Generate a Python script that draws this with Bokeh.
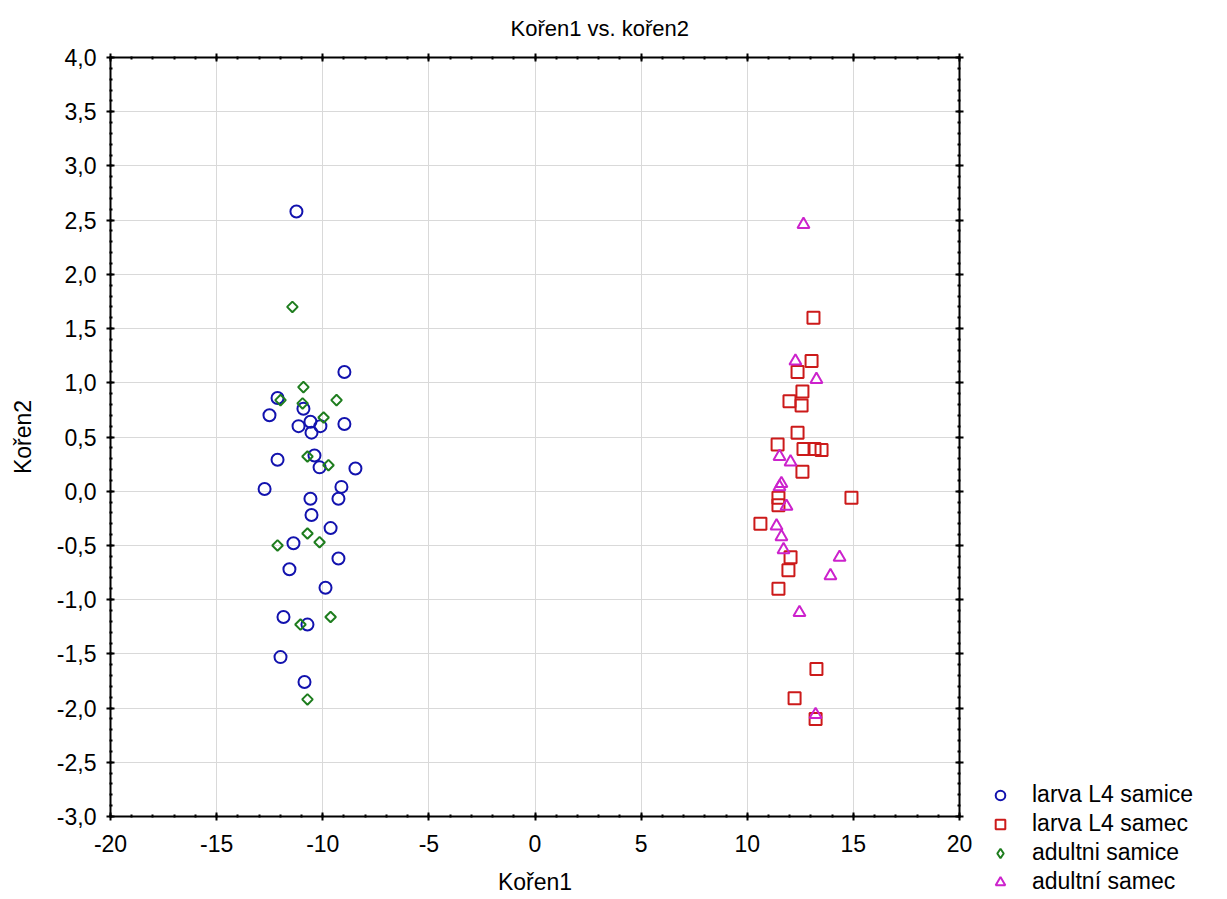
import numpy as np
from bokeh.plotting import figure
from bokeh.layouts import row
from bokeh.models import (Range1d, FixedTicker, LinearAxis, Legend, LegendItem, Title,
                          CustomJSTickFormatter)
from bokeh.embed import file_html
from bokeh.resources import INLINE

# ---- data ----
l4_samice_x = [-11.24, -8.98, -12.13, -10.91, -12.51, -11.14, -10.58, -10.11, -10.53, -8.98,
               -12.13, -10.39, -10.15, -8.46, -12.74, -9.12, -9.26, -10.58, -10.53, -9.63,
               -11.38, -9.26, -11.57, -9.87, -11.85, -10.72, -11.99, -10.86]
l4_samice_y = [2.58, 1.10, 0.86, 0.76, 0.70, 0.60, 0.64, 0.60, 0.54, 0.62,
               0.29, 0.33, 0.22, 0.21, 0.02, 0.04, -0.07, -0.07, -0.22, -0.34,
               -0.48, -0.62, -0.72, -0.89, -1.16, -1.23, -1.53, -1.76]

l4_samec_x = [13.12, 13.03, 12.37, 12.60, 11.99, 12.56, 12.37, 11.43, 12.65, 13.17, 13.50,
              12.60, 11.47, 11.47, 14.91, 10.62, 12.04, 11.94, 11.47, 13.26, 12.23, 13.22]
l4_samec_y = [1.60, 1.20, 1.10, 0.92, 0.83, 0.79, 0.54, 0.43, 0.39, 0.39, 0.38,
              0.18, -0.06, -0.13, -0.06, -0.30, -0.61, -0.73, -0.90, -1.64, -1.91, -2.10]

ad_samice_x = [-11.43, -10.91, -11.99, -10.95, -9.35, -9.96, -10.72, -9.73, -10.72, -12.13,
               -10.15, -9.63, -11.05, -10.72]
ad_samice_y = [1.70, 0.96, 0.84, 0.81, 0.84, 0.68, 0.32, 0.24, -0.39, -0.50,
               -0.47, -1.16, -1.23, -1.92]

ad_samec_x = [12.65, 12.27, 13.26, 11.52, 12.04, 11.61, 11.52, 11.85, 11.38, 11.61, 11.71,
              14.35, 13.92, 12.46, 13.22]
ad_samec_y = [2.46, 1.20, 1.03, 0.32, 0.27, 0.07, 0.04, -0.14, -0.32, -0.42, -0.54,
              -0.61, -0.78, -1.12, -2.06]

series_names = ["larva L4 samice", "larva L4 samec", "adultni samice", "adultní samec"]

x_ticks = [-20, -15, -10, -5, 0, 5, 10, 15, 20]
x_tick_labels = ["-20", "-15", "-10", "-5", "0", "5", "10", "15", "20"]
x_minor = list(range(-20, 21))
y_ticks = [-3.0, -2.5, -2.0, -1.5, -1.0, -0.5, 0.0, 0.5, 1.0, 1.5, 2.0, 2.5, 3.0, 3.5, 4.0]
y_tick_labels = ["-3,0", "-2,5", "-2,0", "-1,5", "-1,0", "-0,5", "0,0", "0,5", "1,0",
                 "1,5", "2,0", "2,5", "3,0", "3,5", "4,0"]
y_minor = [round(-3 + 0.1 * i, 1) for i in range(71)]

FONT = "Liberation Sans"
H = 897
W_MAIN = 985
W_LEG = 234

colors = ["#1212ae", "#cc1a1a", "#1e7d1e", "#cc22cc"]

p = figure(width=W_MAIN, height=H, output_backend="svg", toolbar_location=None,
           x_range=Range1d(-20, 20), y_range=Range1d(-3, 4),
           min_border_left=110, min_border_right=W_MAIN - 959, min_border_top=57,
           min_border_bottom=H - 820,
           x_axis_label="Kořen1", y_axis_label="Kořen2", title=None)
p.frame_align = False
p.background_fill_color = "white"
p.border_fill_color = "white"
p.outline_line_color = None

xt = FixedTicker(ticks=x_ticks, minor_ticks=x_minor)
yt = FixedTicker(ticks=y_ticks, minor_ticks=y_minor)

def style_axis(ax, ticker, labels=None):
    ax.ticker = ticker
    ax.axis_line_color = "black"
    ax.axis_line_width = 2
    ax.major_tick_line_color = "black"
    ax.major_tick_line_width = 2
    ax.major_tick_in = 4
    ax.major_tick_out = 4
    ax.minor_tick_line_color = "black"
    ax.minor_tick_line_width = 2
    ax.minor_tick_in = 2
    ax.minor_tick_out = 1
    ax.major_label_text_font = FONT
    ax.major_label_text_color = "black"
    ax.axis_label_text_font = FONT
    ax.axis_label_text_font_style = "normal"
    ax.axis_label_text_color = "black"
    if labels is None:
        ax.formatter = CustomJSTickFormatter(code="return ''")
        ax.major_label_standoff = 0
    else:
        ax.major_label_overrides = labels
        ax.major_label_text_font_size = "23px"

style_axis(p.xaxis[0], xt, {v: s for v, s in zip(x_ticks, x_tick_labels)})
style_axis(p.yaxis[0], yt, {v: s for v, s in zip(y_ticks, y_tick_labels)})
p.xaxis[0].major_label_standoff = 14
p.xaxis[0].axis_label_standoff = 14
p.xaxis[0].axis_label_text_font_size = "23px"
p.yaxis[0].major_label_standoff = 10
p.yaxis[0].axis_label_standoff = 18
p.yaxis[0].axis_label_text_font_size = "23px"

top_ax = LinearAxis()
right_ax = LinearAxis()
style_axis(top_ax, xt)
style_axis(right_ax, yt)
p.add_layout(top_ax, "above")
p.add_layout(right_ax, "right")

t = Title(text="Kořen1 vs. kořen2", align="left", offset=400, text_font=FONT,
          text_font_size="22px", text_font_style="normal", text_color="black", standoff=26)
p.add_layout(t, "above")

p.xgrid.grid_line_color = "#d9d9d9"
p.ygrid.grid_line_color = "#d9d9d9"
p.xgrid.ticker = xt
p.ygrid.ticker = yt

series = [(l4_samice_x, l4_samice_y), (l4_samec_x, l4_samec_y),
          (ad_samice_x, ad_samice_y), (ad_samec_x, ad_samec_y)]

p.scatter(l4_samice_x, l4_samice_y, marker="circle", size=12, fill_color=None,
          line_color=colors[0], line_width=2)
p.scatter(l4_samec_x, l4_samec_y, marker="square", size=12, fill_color=None,
          line_color=colors[1], line_width=2)
p.scatter(ad_samice_x, ad_samice_y, marker="square", angle=np.pi / 4, size=7.5,
          fill_color=None, line_color=colors[2], line_width=2)
p.scatter(ad_samec_x, ad_samec_y, marker="triangle", size=12, fill_color=None,
          line_color=colors[3], line_width=2)

# legend canvas to the right (lets the legend sit lower than the plot frame);
# its ranges keep the series' points out of view, only the legend keys show
q = figure(width=W_LEG, height=H, output_backend="svg", toolbar_location=None,
           x_range=Range1d(100, 101), y_range=Range1d(100, 101), title=None,
           x_axis_location=None, y_axis_location=None,
           min_border_left=0, min_border_right=0, min_border_top=0, min_border_bottom=0)
q.frame_align = False
q.grid.visible = False
q.outline_line_color = None
q.background_fill_color = "white"
q.border_fill_color = "white"
leg_markers = ["circle", "square", "diamond", "triangle"]
leg_r = [q.scatter(sx, sy, marker=m, size=12, fill_color=None, line_color=c, line_width=2)
         for (sx, sy), m, c in zip(series, leg_markers, colors)]

legend = Legend(items=[LegendItem(label=n, renderers=[r]) for n, r in zip(series_names, leg_r)],
                location=(3, 2), orientation="vertical",
                glyph_width=24, glyph_height=24, label_height=24, spacing=2,
                label_standoff=20, padding=0, margin=0,
                border_line_color=None, background_fill_alpha=0,
                label_text_font=FONT, label_text_font_size="23px", label_text_color="black")
q.add_layout(legend, "center")

layout = row(p, q, spacing=0)
open("out.html", "w").write(file_html(layout, INLINE))
